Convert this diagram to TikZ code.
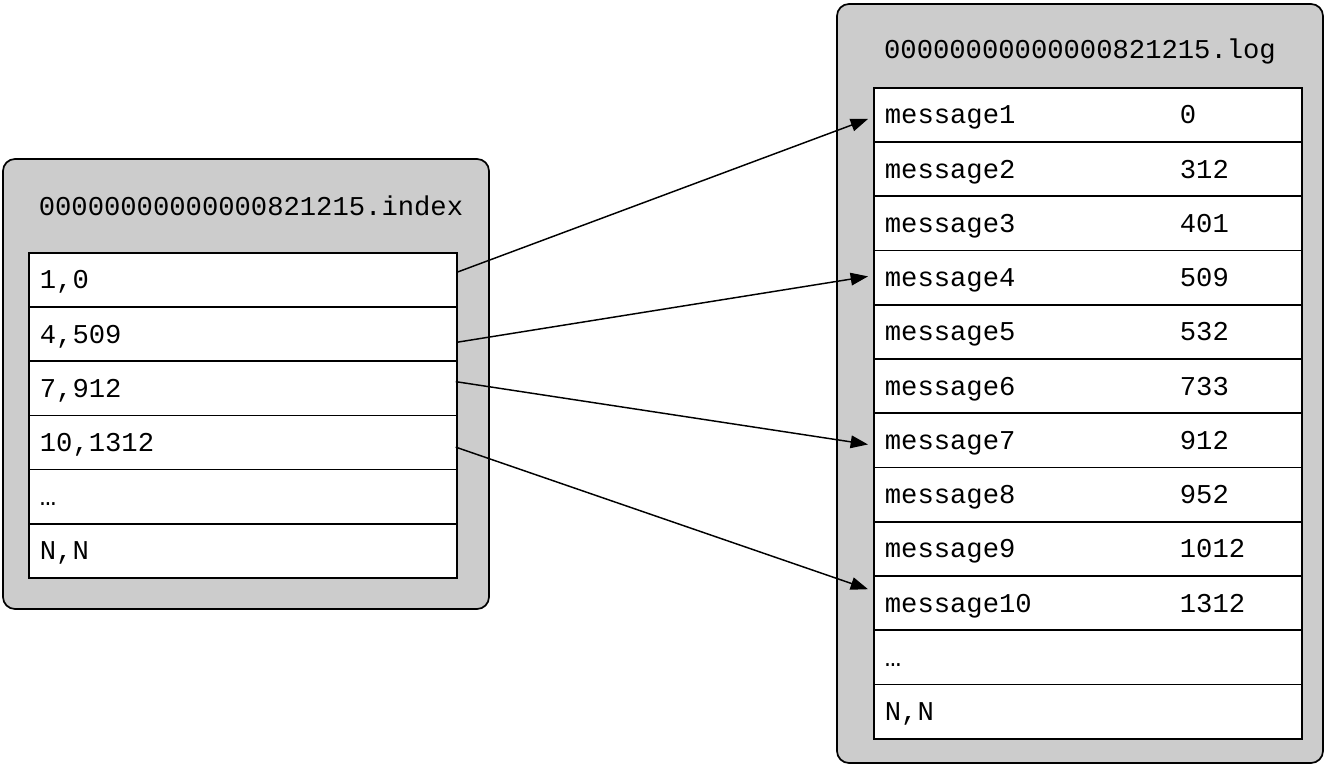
\documentclass[tikz,border=0pt]{standalone}
\usepackage{fontspec}
\newfontfamily\cellfont{Liberation Mono}
\usetikzlibrary{arrows.meta}
\definecolor{segGray}{HTML}{CCCCCC}
\tikzset{
  segfile/.style={draw, fill=segGray, rounded corners=9pt, line width=1.3pt},
  segtitle/.style={font=\cellfont\fontsize{20.4pt}{24pt}\selectfont, inner sep=0pt},
  segrow/.style={draw, line width=1.3pt, anchor=north west,
    minimum width=321pt, minimum height=40.65pt, text width=304.5pt,
    text height=17.5pt, text depth=4pt,
    inner xsep=8.25pt, inner ysep=0pt, align=left,
    font=\cellfont\fontsize{20.4pt}{24pt}\selectfont},
  ptr/.style={-{Triangle[length=13pt,width=9.5pt]}, line width=1.1pt}
}
\begin{document}
\begin{tikzpicture}[x=0.75pt,y=-0.75pt]
    \useasboundingbox (0,0) rectangle (1325,766);

    % Draw the two segment files
    \node[segfile, minimum width=364.5pt, minimum height=337.5pt] (idxfile) at (246,384) {};
    \node[segfile, minimum width=364.5pt, minimum height=569.25pt] (logfile) at (1080,383.5) {};
    \node[segtitle] (idxtitle) at (251,206) {00000000000000821215.index};
    \node[segtitle] (logtitle) at (1080,51) {00000000000000821215.log};

    % White table backgrounds
    \fill[white] (28,252) rectangle (456,577);
    \fill[white] (873,87) rectangle (1301,738);

    % Draw index entries
    \foreach \txt [count=\i] in {{1,0},{4,509},{7,912},{10,1312},{…},{N,N}}
        \node[segrow] (idx\i) at (28,{252+54.17*(\i-1)}) {\txt};

    % Draw log messages with their positions
    \foreach \pos [count=\i] in {0,312,401,509,532,733,912,952,1012,1312}
        \node[segrow] (msg\i) at (873,{87+54.25*(\i-1)}) {\makebox[221.25pt][l]{message\i}\pos};
    \node[segrow] (msg11) at (873,{87+54.25*10}) {…};
    \node[segrow] (msg12) at (873,{87+54.25*11}) {N,N};

    % Draw pointers from index to log
    \draw[ptr] ([yshift=6pt]idx1.east) -- ([xshift=-3.75pt,yshift=-3pt]msg1.west);
    \draw[ptr] ([yshift=-6pt]idx2.east) -- ([xshift=-3.75pt,yshift=1pt]msg4.west);
    \draw[ptr] ([xshift=-1.5pt,yshift=5pt]idx3.east) -- ([xshift=-3.75pt,yshift=-3pt]msg7.west);
    \draw[ptr] ([xshift=-1.5pt,yshift=-3.5pt]idx4.east) -- ([xshift=-3.75pt,yshift=10.5pt]msg10.west);
\end{tikzpicture}
\end{document}
